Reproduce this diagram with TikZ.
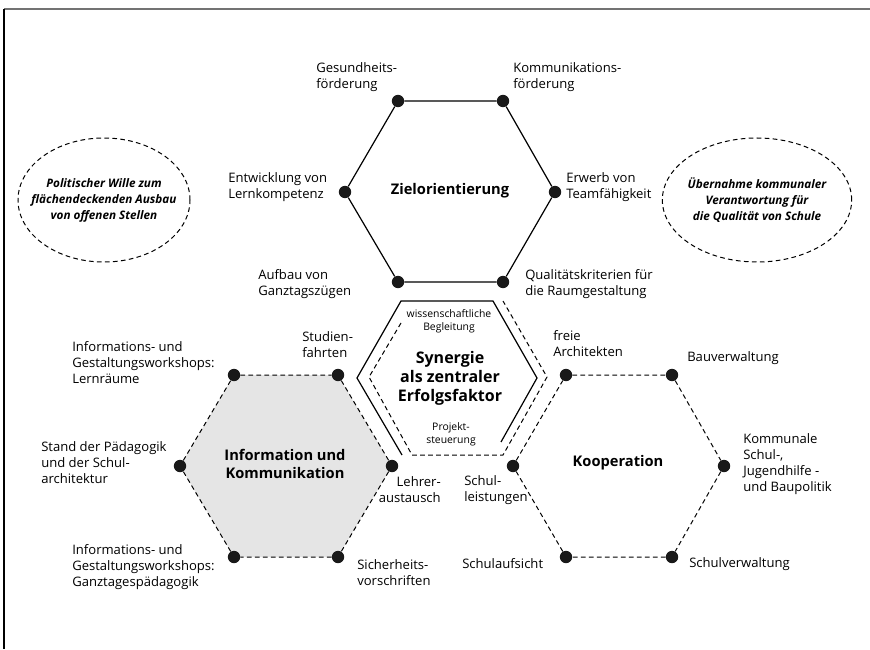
\documentclass[tikz,border=0pt]{standalone}
\usepackage{fontspec}
\setmainfont{Open Sans}
\usetikzlibrary{backgrounds}

\begin{document}
\begin{tikzpicture}[x=0.75pt,y=-0.75pt,
  dot/.style={circle,fill=black!90,inner sep=0pt,minimum size=9.3pt},
  hexline/.style={line width=0.9pt},
  hexdash/.style={line width=0.75pt,dash pattern=on 3.5pt off 2.5pt},
  lbl/.style={inner sep=0pt,anchor=west,align=left,font=\fontsize{9.8}{12}\selectfont},
  title/.style={inner sep=0pt,align=center,font=\fontsize{11}{13.5}\selectfont\bfseries},
  smalllbl/.style={inner sep=0pt,align=center,font=\fontsize{7.8}{9.5}\selectfont},
  wish/.style={inner sep=0pt,align=center,font=\fontsize{8.8}{12}\selectfont\bfseries\itshape}]
\useasboundingbox (0,0) rectangle (870,649);
\draw[black!55,line width=1.6pt] (4,9) -- (870,9);
\draw[line width=1pt] (4,9) -- (4,649);

\node (wille) at (104,200) [wish] {Politischer Wille zum\\fl\"achendeckenden Ausbau\\von offenen Stellen};
\draw[hexdash] (wille.center) ellipse [x radius=64.5pt,y radius=46.5pt];
\node (verant) at (757,200) [wish] {\"Ubernahme kommunaler\\Verantwortung f\"ur\\die Qualit\"at von Schule};
\draw[hexdash] (verant.center) ellipse [x radius=71pt,y radius=46.5pt];

\node (z1) at (398,101) [dot] {};
\node (z2) at (503,101) [dot] {};
\node (z3) at (555,192) [dot] {};
\node (z4) at (503,282) [dot] {};
\node (z5) at (398,282) [dot] {};
\node (z6) at (345,192) [dot] {};
\draw[hexline] (z1) -- (z2) -- (z3) -- (z4) -- (z5) -- (z6) -- (z1);
\node (ziel) at (450,191) [title] {Zielorientierung};

\node (i1) at (234,375) [dot] {};
\node (i2) at (338,375) [dot] {};
\node (i3) at (392,466) [dot] {};
\node (i4) at (338,557) [dot] {};
\node (i5) at (234,557) [dot] {};
\node (i6) at (180,466) [dot] {};
\begin{scope}[on background layer]
\fill[black!10] (i1.center) -- (i2.center) -- (i3.center) -- (i4.center) -- (i5.center) -- (i6.center) -- cycle;
\end{scope}
\draw[hexdash] (i1) -- (i2) -- (i3) -- (i4) -- (i5) -- (i6) -- (i1);
\node (info) at (285,464) [title] {Information und\\Kommunikation};

\node (k1) at (566,375) [dot] {};
\node (k2) at (672,375) [dot] {};
\node (k3) at (724,466) [dot] {};
\node (k4) at (672,557) [dot] {};
\node (k5) at (566,557) [dot] {};
\node (k6) at (513,466) [dot] {};
\draw[hexdash] (k1) -- (k2) -- (k3) -- (k4) -- (k5) -- (k6) -- (k1);
\node (koop) at (618,463) [title] {Kooperation};

\coordinate (s1) at (401,301);
\coordinate (s2) at (493,301);
\coordinate (s3) at (537,378);
\coordinate (s4) at (501,442);
\coordinate (s5) at (402,455);
\coordinate (s6) at (357,378);
\draw[hexline] (s5) -- (s6) -- (s1) -- (s2) -- (s3) -- (s4);
\coordinate (d0) at (401,323);
\coordinate (d1) at (369,377);
\coordinate (d2) at (412,455);
\coordinate (d3) at (503,455);
\coordinate (d4) at (547,377);
\coordinate (d5) at (503,301);
\draw[hexdash] (d0) -- (d1) -- (d2) -- (d3) -- (d4) -- (d5);
\node (wiss) at (449,321) [smalllbl] {wissenschaftliche\\Begleitung};
\node (syn) at (450,378) [title,font=\fontsize{12}{14.25}\selectfont\bfseries] {Synergie\\als zentraler\\Erfolgsfaktor};
\node (proj) at (451,434.5) [smalllbl] {Projekt-\\steuerung};

\node (ges) at (316,77) [lbl] {Gesundheits-\\f\"orderung};
\node (kom) at (513,77) [lbl] {Kommunikations-\\f\"orderung};
\node (ent) at (228,187) [lbl] {Entwicklung von\\Lernkompetenz};
\node (erw) at (566,187) [lbl] {Erwerb von\\Teamf\"ahigkeit};
\node (auf) at (258,284.5) [lbl] {Aufbau von\\Ganztagsz\"ugen};
\node (qual) at (525,284.5) [lbl] {Qualit\"atskriterien f\"ur\\die Raumgestaltung};

\node (lern) at (72,363) [lbl] {Informations- und\\Gestaltungsworkshops:\\Lernr\"aume};
\node (stud) at (302,344.5) [lbl] {Studien-\\fahrten};
\node (stand) at (41,463) [lbl] {Stand der P\"adagogik\\und der Schul-\\architektur};
\node (lehr) at (441,490) [lbl,anchor=east,align=right] {Lehrer-\\austausch};
\node (ganz) at (72,567) [lbl] {Informations- und\\Gestaltungsworkshops:\\Ganztagesp\"adagogik};
\node (sich) at (357,572.5) [lbl] {Sicherheits-\\vorschriften};

\node (frei) at (553,344) [lbl] {freie\\Architekten};
\node (bauv) at (687,358) [lbl] {Bauverwaltung};
\node (komm) at (743,464) [lbl] {Kommunale\\Schul-,\\Jugendhilfe -\\und Baupolitik};
\node (leist) at (464,490) [lbl] {Schul-\\leistungen};
\node (aufs) at (462,564) [lbl] {Schulaufsicht};
\node (schv) at (689,564) [lbl] {Schulverwaltung};
\end{tikzpicture}
\end{document}
